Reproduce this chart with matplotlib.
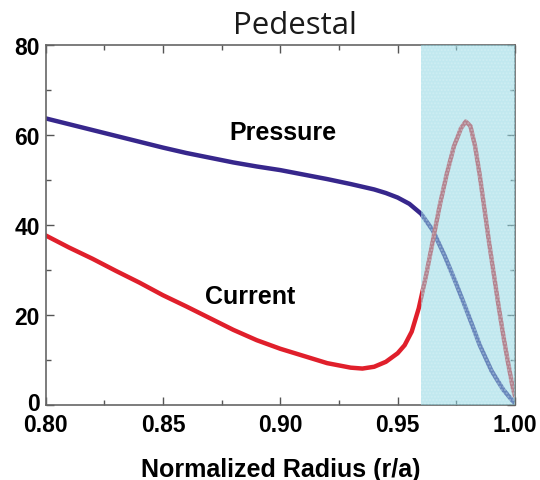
import numpy as np
import matplotlib
matplotlib.use('Agg')
import matplotlib.pyplot as plt
from matplotlib.ticker import MultipleLocator
from matplotlib.transforms import ScaledTranslation

# values
radius_p = [0.80, 0.82, 0.84, 0.85, 0.86, 0.88, 0.89, 0.90, 0.91, 0.92, 0.93,
            0.94, 0.945, 0.95, 0.955, 0.96, 0.965, 0.97, 0.975, 0.98, 0.985,
            0.99, 0.995, 1.00]
pressure = [63.7, 61.1, 58.5, 57.2, 56.0, 53.9, 53.0, 52.2, 51.2, 50.2, 49.1,
            47.9, 47.1, 46.1, 44.7, 42.5, 38.8, 33.2, 26.9, 20.2, 13.3,
            7.6, 3.4, 0.3]

radius_j = [0.80, 0.81, 0.82, 0.83, 0.84, 0.85, 0.86, 0.87, 0.88, 0.89, 0.90,
            0.91, 0.92, 0.93, 0.935, 0.94, 0.945, 0.95, 0.953, 0.956, 0.959,
            0.962, 0.965, 0.968, 0.971, 0.974, 0.977, 0.979, 0.981, 0.983,
            0.985, 0.987, 0.989, 0.991, 0.993, 0.995, 0.997, 0.999, 1.00]
current = [37.7, 35.0, 32.5, 29.8, 27.2, 24.4, 21.9, 19.3, 16.7, 14.4, 12.5,
           10.9, 9.3, 8.3, 8.1, 8.5, 9.6, 11.5, 13.3, 16.3, 21.5,
           28.5, 36.5, 44.5, 51.5, 57.5, 61.5, 63.0, 62.0, 57.5,
           51.0, 43.5, 36.0, 29.0, 22.0, 15.5, 9.5, 4.0, 2.0]

pedestal = (0.96, 1.00)
x_ticks = [0.80, 0.85, 0.90, 0.95, 1.00]
y_ticks = [0, 20, 40, 60, 80]

bold = {'family': ['Liberation Sans', 'DejaVu Sans'], 'weight': 'bold'}

fig = plt.figure(figsize=(5.4, 4.81), dpi=100)
ax = fig.add_axes([0.0843, 0.1559, 0.8694, 0.7485])

ax.plot(radius_p, pressure, color='#37278c', lw=3.2, solid_capstyle='round',
        solid_joinstyle='round', zorder=2)
ax.plot(radius_j, current, color='#e01f2b', lw=3.2, solid_capstyle='round',
        solid_joinstyle='round', zorder=2)

# shaded pedestal region drawn over the lines so they look washed out
ax.axvspan(pedestal[0], pedestal[1], facecolor='#8fd6e2', alpha=0.55,
           lw=0, zorder=3)
ax.axvspan(pedestal[0], pedestal[1], facecolor='none', edgecolor='#e4f5f8',
           hatch='.....', lw=0, alpha=0.35, zorder=3)

ax.set_xlim(0.80, 1.00)
ax.set_ylim(0, 80)
ax.set_xticks(x_ticks)
ax.set_xticklabels(['%.2f' % v for v in x_ticks])
ax.set_yticks(y_ticks)
ax.xaxis.set_minor_locator(MultipleLocator(0.025))
ax.yaxis.set_minor_locator(MultipleLocator(10))
ax.tick_params(which='both', direction='in', top=True, right=True,
               color='#555555', width=1.0)
ax.tick_params(which='major', length=5.5)
ax.tick_params(axis='x', which='major', pad=6)
ax.tick_params(axis='y', which='major', pad=4)
ax.tick_params(which='minor', length=3.5)
for lab in ax.get_xticklabels() + ax.get_yticklabels():
    lab.set_fontproperties(bold)
    lab.set_fontsize(16.5)
# lift the "0" on the y axis a little, as in the reference
ylab0 = ax.get_yticklabels()[0]
ylab0.set_transform(ylab0.get_transform() + ScaledTranslation(0, 4 / 100, fig.dpi_scale_trans))
for s in ax.spines.values():
    s.set_color('#666666')
    s.set_linewidth(1.2)

ax.text(0.901, 60.7, 'Pressure', fontsize=18, ha='center', va='center', **bold)
ax.text(0.887, 24.2, 'Current', fontsize=18, ha='center', va='center', **bold)

ax.set_xlabel('Normalized Radius (r/a)', fontsize=18, labelpad=15, **bold)
fig.text(295 / 540, 1 - 26 / 481, 'Pedestal', fontsize=22.5, ha='center',
         va='center', family=['Open Sans', 'DejaVu Sans'], color='#1a1a1a')

fig.savefig('out.png', dpi=100)
